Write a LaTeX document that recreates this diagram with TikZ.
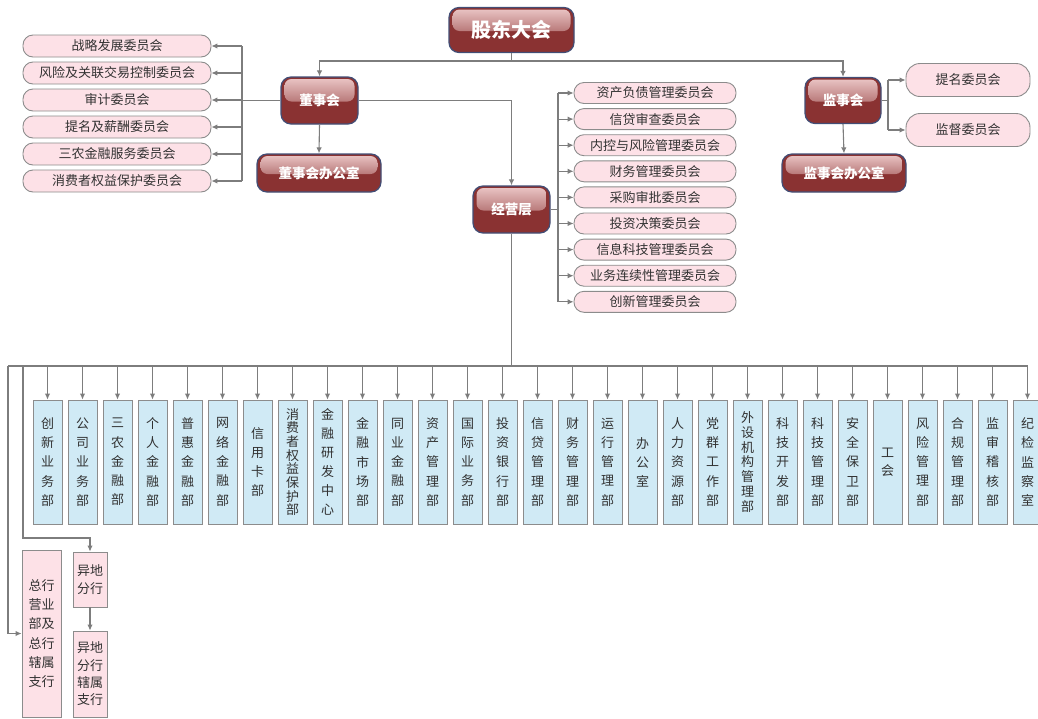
\documentclass[tikz,border=0pt]{standalone}
\usepackage{fontspec}
\setmainfont{Noto Sans CJK SC}
\usetikzlibrary{arrows.meta,calc}
\definecolor{dred}{RGB}{138,50,50}
\definecolor{glossc}{RGB}{236,200,200}
\definecolor{dborder}{RGB}{66,78,118}
\definecolor{pinkf}{RGB}{253,225,231}
\definecolor{pinkb}{RGB}{140,140,140}
\definecolor{bluef}{RGB}{208,234,245}
\definecolor{lineg}{RGB}{125,125,125}
\definecolor{txt}{RGB}{50,50,50}
\tikzset{
  redbox/.style={draw=dborder, line width=1.2pt, fill=dred, rounded corners=10pt,
    text=white, inner sep=0pt, font=\bfseries\fontsize{13.5}{15}\selectfont,
    path picture={
      \fill[top color=glossc, bottom color=dred, rounded corners=7pt]
        ([xshift=3.5pt,yshift=-2pt]path picture bounding box.north west) rectangle
        ([xshift=-3.5pt,yshift=-1pt]path picture bounding box.east);
    }},
  pillbox/.style={draw=pinkb, line width=0.9pt, fill=pinkf, rounded corners=10pt,
    text=txt, inner sep=0pt, font=\fontsize{13}{15}\selectfont},
  deptbox/.style={draw=pinkb, line width=0.9pt, fill=bluef, inner sep=0pt,
    text=txt, align=center, minimum width=29pt, minimum height=124pt},
  branchbox/.style={draw=pinkb, line width=0.9pt, fill=pinkf, inner sep=0pt,
    text=txt, align=center},
  conn/.style={draw=lineg, line width=1.1pt},
  arr/.style={conn, -{Latex[length=6pt,width=5.5pt]}},
}
\begin{document}
\begin{tikzpicture}[x=1pt,y=-1pt]
\useasboundingbox (0,0) rectangle (1038,718);
% top level
\node[redbox, minimum width=125pt, minimum height=45pt, font=\bfseries\fontsize{20}{22}\selectfont] (gd) at (511.5,30) {股东大会};
\node[redbox, minimum width=77pt, minimum height=47pt] (dsh) at (319.5,100.5) {董事会};
\node[redbox, minimum width=124pt, minimum height=38pt] (dsbgs) at (319,173) {董事会办公室};
\node[redbox, minimum width=76pt, minimum height=46pt] (jsh) at (843,100.5) {监事会};
\node[redbox, minimum width=124pt, minimum height=38pt] (jsbgs) at (844,173) {监事会办公室};
\node[redbox, minimum width=77pt, minimum height=47pt] (jyc) at (511.5,209.5) {经营层};
% board committees
\foreach \t [count=\i from 0] in {战略发展委员会,风险及关联交易控制委员会,审计委员会,提名及薪酬委员会,三农金融服务委员会,消费者权益保护委员会}{
  \node[pillbox, minimum width=188pt, minimum height=22pt] (lc\i) at (117,{46+27*\i}) {\t};
}
% management committees
\foreach \t [count=\i from 0] in {资产负债管理委员会,信贷审查委员会,内控与风险管理委员会,财务管理委员会,采购审批委员会,投资决策委员会,信息科技管理委员会,业务连续性管理委员会,创新管理委员会}{
  \node[pillbox, minimum width=162pt, minimum height=21pt] (rc\i) at (655,{93+26.1*\i}) {\t};
}
% supervisory committees
\node[pillbox, rounded corners=14pt, minimum width=124pt, minimum height=33pt] (tm) at (968,80) {提名委员会};
\node[pillbox, rounded corners=14pt, minimum width=124pt, minimum height=33pt] (jd) at (968,130) {监督委员会};
% connectors top
\coordinate (tb) at (511.5,61);
\draw[arr] (gd.south) -- (tb) -| (dsh.north);
\draw[arr] (tb) -| (jsh.north);
\draw[arr] (dsh.south) -- (dsbgs.north);
\draw[arr] (jsh.south) -- (jsbgs.north);
\draw[arr] (dsh.east) -| (jyc.north);
% board committee bar
\coordinate (lb) at (242,100.5);
\draw[conn] (dsh.west) -- (lb);
\draw[conn] (lc0.east -| lb) -- (lc5.east -| lb);
\foreach \i in {0,...,5}{ \draw[arr] (lc\i.east -| lb) -- (lc\i.east); }
% management committee bar
\coordinate (rb) at (558,209.5);
\draw[conn] (jyc.east) -- (rb);
\draw[conn] (rc0.west -| rb) -- (rc8.west -| rb);
\foreach \i in {0,...,8}{ \draw[arr] (rc\i.west -| rb) -- (rc\i.west); }
% supervisory bar
\coordinate (sb) at (888,100.5);
\draw[conn] (jsh.east) -- (sb);
\draw[conn] (tm.west -| sb) -- (jd.west -| sb);
\draw[arr] (tm.west -| sb) -- (tm.west);
\draw[arr] (jd.west -| sb) -- (jd.west);
% departments
\coordinate (bus) at (511.5,366);
\draw[conn] (jyc.south) -- (bus);
\foreach \t/\s [count=\i from 0] in {
 {创\\新\\业\\务\\部}/19.3, {公\\司\\业\\务\\部}/19.3, {三\\农\\金\\融\\部}/19.3,
 {个\\人\\金\\融\\部}/19.3, {普\\惠\\金\\融\\部}/19.3, {网\\络\\金\\融\\部}/19.3,
 {信\\用\\卡\\部}/19.3, {消\\费\\者\\权\\益\\保\\护\\部}/13.7, {金\\融\\研\\发\\中\\心}/19,
 {金\\融\\市\\场\\部}/19.3, {同\\业\\金\\融\\部}/19.3, {资\\产\\管\\理\\部}/19.3,
 {国\\际\\业\\务\\部}/19.3, {投\\资\\银\\行\\部}/19.3, {信\\贷\\管\\理\\部}/19.3,
 {财\\务\\管\\理\\部}/19.3, {运\\行\\管\\理\\部}/19.3, {办\\公\\室}/19,
 {人\\力\\资\\源\\部}/19.3, {党\\群\\工\\作\\部}/19.3, {外\\设\\机\\构\\管\\理\\部}/14.9,
 {科\\技\\开\\发\\部}/19.3, {科\\技\\管\\理\\部}/19.3, {安\\全\\保\\卫\\部}/19.3,
 {工\\会}/18, {风\\险\\管\\理\\部}/19.3, {合\\规\\管\\理\\部}/19.3,
 {监\\审\\稽\\核\\部}/19.3, {纪\\检\\监\\察\\室}/19.3}{
  \node[deptbox, font={\fontsize{13}{\s}\selectfont}] (d\i) at ({47.5+35*\i},462) {\t};
  \draw[arr] (d\i.north |- bus) -- (d\i.north);
}
\coordinate (bl) at (8,366);
\draw[conn] (bl) -- (d28.north |- bus);
% branches
\node[branchbox, minimum width=39pt, minimum height=167pt, font={\fontsize{13}{19.2}\selectfont}] (zh) at (41.5,633.5) {总行\\营业\\部及\\总行\\辖属\\支行};
\node[branchbox, minimum width=34pt, minimum height=55pt, font={\fontsize{13}{18}\selectfont}] (ydfh) at (90,579.5) {异地\\分行};
\node[branchbox, minimum width=34pt, minimum height=86pt, font={\fontsize{13}{17.3}\selectfont}] (ydzh) at (90,674) {异地\\分行\\辖属\\支行};
\draw[arr] (bl) |- (zh.west);
\coordinate (b2) at (23,366);
\coordinate (c2) at (23,538);
\draw[arr] (b2) -- (c2) -| (ydfh.north);
\draw[arr] (ydfh.south) -- (ydzh.north);
\end{tikzpicture}
\end{document}
